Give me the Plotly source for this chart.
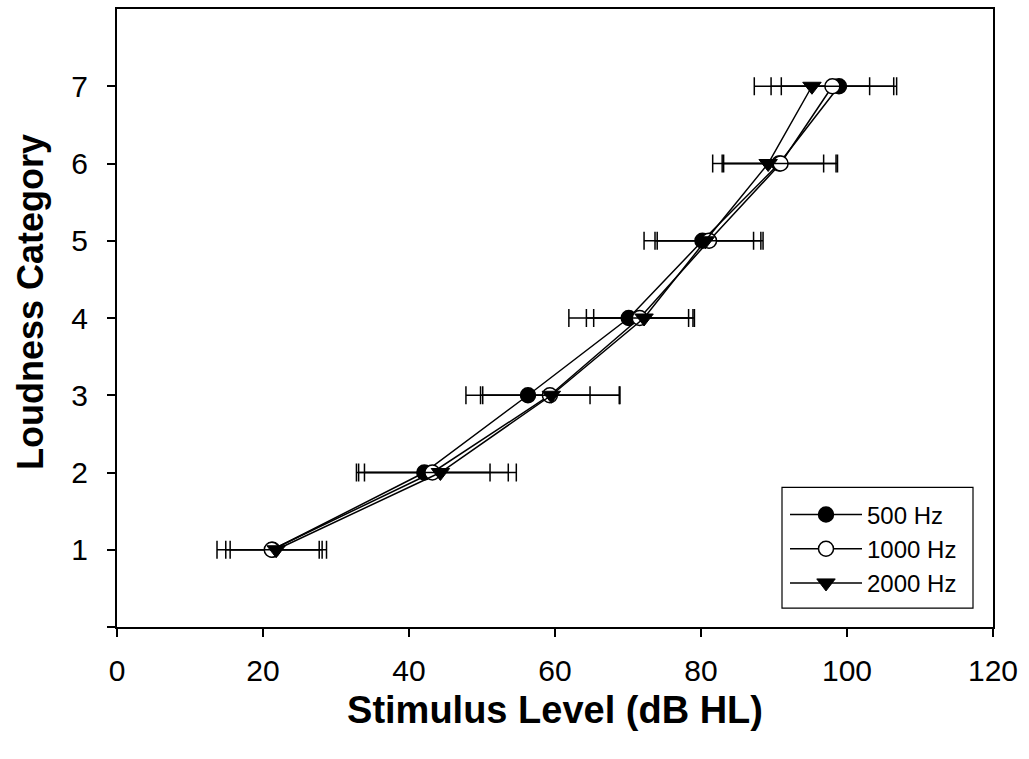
import plotly.graph_objects as go

categories = [1, 2, 3, 4, 5, 6, 7]

hz500 = [21.3, 42.1, 56.3, 70.1, 80.2, 90.7, 98.9]
hz500_sd = [6.4, 9.0, 8.5, 8.2, 8.0, 7.8, 7.9]

hz1000 = [21.2, 43.2, 59.3, 71.6, 81.1, 90.9, 98.0]
hz1000_sd = [7.5, 10.4, 9.5, 7.3, 7.4, 7.8, 8.4]

hz2000 = [21.8, 44.3, 59.5, 72.2, 80.6, 89.2, 95.2]
hz2000_sd = [6.3, 10.4, 9.4, 6.9, 6.6, 7.6, 7.9]

x_ticks = [0, 20, 40, 60, 80, 100, 120]
y_ticks = [0, 1, 2, 3, 4, 5, 6, 7]
y_ticktext = ["", "1", "2", "3", "4", "5", "6", "7"]

series = [
    ("500 Hz", hz500, hz500_sd, dict(symbol="circle", color="black", size=15,
                                     line=dict(color="black", width=1.5))),
    ("1000 Hz", hz1000, hz1000_sd, dict(symbol="circle", color="white", size=15,
                                        line=dict(color="black", width=1.5))),
    ("2000 Hz", hz2000, hz2000_sd, dict(symbol="triangle-down", color="black", size=16,
                                        line=dict(color="black", width=1))),
]

fig = go.Figure()
for name, xs, sds, marker in series:
    fig.add_trace(go.Scatter(
        x=xs, y=categories, name=name, mode="lines+markers",
        line=dict(color="black", width=1.5),
        marker=marker,
        error_x=dict(type="data", array=sds, visible=True,
                     color="black", thickness=1.5, width=9),
    ))

font = "Liberation Sans, Arial, sans-serif"
L, R, T, B = 117, 993, 7, 627
W, H = R - L, B - T


def px(xp):
    return (xp - L) / W


def py(yp):
    return (B - yp) / H


fig.add_shape(type="rect", xref="paper", yref="paper",
              x0=px(782), x1=px(973), y0=py(608), y1=py(487),
              line=dict(color="black", width=1.2), fillcolor="white", layer="above")

fig.add_annotation(text="<b>Loudness Category</b>", xref="paper", yref="paper",
                   x=px(30), y=py(301), textangle=-90, showarrow=False,
                   xanchor="center", yanchor="middle",
                   font=dict(size=36, family=font, color="black"))

fig.update_layout(
    width=1029, height=759,
    margin=dict(l=L, r=1029 - R, t=T, b=759 - B),
    paper_bgcolor="white", plot_bgcolor="white",
    font=dict(family=font, color="black"),
    showlegend=True,
    legend=dict(x=px(785), y=py(492), xanchor="left", yanchor="top",
                bgcolor="rgba(0,0,0,0)", borderwidth=0,
                font=dict(size=24, family=font, color="black"),
                itemwidth=72, tracegroupgap=0),
    xaxis=dict(range=[0, 120], tickvals=x_ticks, showgrid=False, zeroline=False,
               showline=True, linecolor="black", linewidth=2, mirror=True,
               ticks="outside", ticklen=8, tickwidth=1.5, tickcolor="black",
               ticklabelstandoff=8,
               tickfont=dict(size=30, family=font),
               title=dict(text="<b>Stimulus Level (dB HL)</b>",
                          font=dict(size=38, family=font), standoff=10)),
    yaxis=dict(range=[0, 8], tickvals=y_ticks, ticktext=y_ticktext,
               showgrid=False, zeroline=False,
               showline=True, linecolor="black", linewidth=2, mirror=True,
               ticks="outside", ticklen=8, tickwidth=1.5, tickcolor="black",
               ticklabelstandoff=13,
               tickfont=dict(size=30, family=font)),
)

fig.write_html("out.html")
